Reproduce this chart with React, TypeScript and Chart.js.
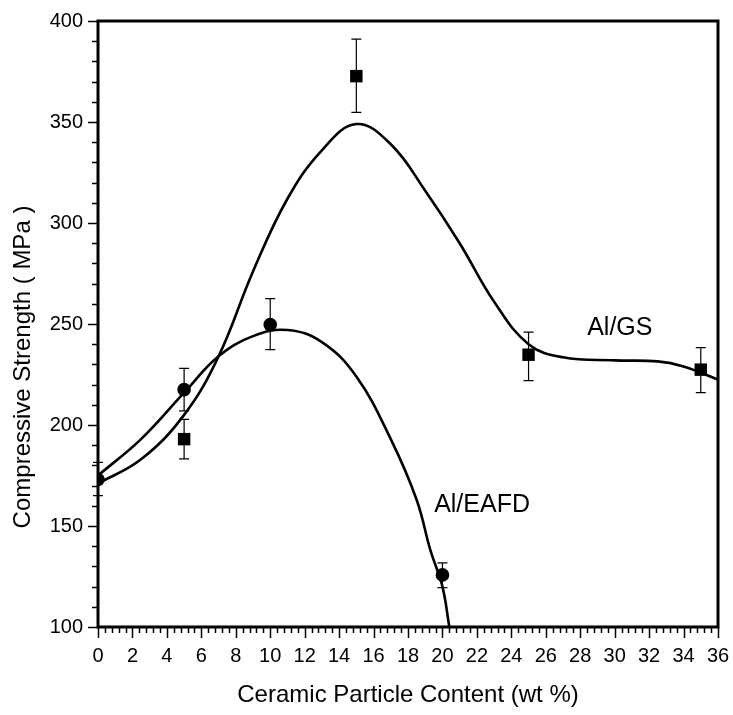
import React, { useEffect, useRef } from "react";
import { Chart, registerables } from "chart.js";

Chart.register(...registerables);

// Fitted curve Al/GS
const gsCurveX = [0, 2.5, 5, 7, 9, 11, 13, 15, 17, 19, 21, 23, 25, 27, 30, 32.5, 34, 36];
const gsCurveY = [171, 183, 205, 234, 276, 312, 336, 349, 339, 316, 290, 261, 240, 233.5, 232, 231.5, 229, 222.5];

// Fitted curve Al/EAFD
const eafdCurveX = [0, 2.5, 5, 7, 9, 11, 13, 15, 17, 18.5, 19.3, 20.0, 20.4];
const eafdCurveY = [175, 193, 216, 234, 244, 247, 241, 224, 193, 163, 138, 120, 100];

// Measured points
const gsX = [5, 15, 25, 35];
const gsY = [193, 372.7, 234.8, 227.4];
const gsLow = [183.2, 354.8, 222, 216];
const gsHigh = [202.8, 391, 246, 238.3];

const eafdX = [0, 5, 10, 20];
const eafdY = [173, 217.5, 249.7, 125.8];
const eafdLow = [165, 207, 237.3, 119.5];
const eafdHigh = [181.5, 228, 262.6, 131.7];

const xMin = 0, xMax = 36, xStep = 2, xMinor = 0.4;
const yMin = 100, yMax = 400, yStep = 50, yMinor = 10;

const xTitle = "Ceramic Particle Content (wt %)";
const yTitle = "Compressive Strength ( MPa )";
const seriesLabels = ["Al/GS", "Al/EAFD"];
const labelPos = [[30.3, 248], [22.3, 160.5]];

const FONT = "'Liberation Sans', Arial, sans-serif";

const decorPlugin = {
  id: "decor",
  beforeDatasetsDraw(chart: any) {
    const { ctx, chartArea: a, scales } = chart;
    const xs = scales.x, ys = scales.y;
    ctx.save();
    ctx.strokeStyle = "#000";
    ctx.lineWidth = 3;
    ctx.strokeRect(a.left, a.top, a.right - a.left, a.bottom - a.top);
    ctx.lineWidth = 1.5;
    ctx.beginPath();
    const nx = Math.round((xMax - xMin) / xMinor);
    for (let i = 0; i <= nx; i++) {
      const v = xMin + i * xMinor;
      const major = Math.abs(v / xStep - Math.round(v / xStep)) < 1e-6;
      const px = Math.round(xs.getPixelForValue(v)) + 0.5;
      ctx.moveTo(px, a.bottom);
      ctx.lineTo(px, a.bottom + (major ? 11 : 6));
    }
    const ny = Math.round((yMax - yMin) / yMinor);
    for (let i = 0; i <= ny; i++) {
      const v = yMin + i * yMinor;
      const major = Math.abs(v / yStep - Math.round(v / yStep)) < 1e-6;
      const py = Math.round(ys.getPixelForValue(v)) + 0.5;
      ctx.moveTo(a.left, py);
      ctx.lineTo(a.left - (major ? 10 : 6), py);
    }
    ctx.stroke();
    ctx.restore();
  },
  afterDatasetsDraw(chart: any) {
    const { ctx, scales } = chart;
    const xs = scales.x, ys = scales.y;
    ctx.save();
    ctx.strokeStyle = "#000";
    ctx.lineWidth = 1.2;
    const bars = (X: number[], L: number[], H: number[]) => {
      X.forEach((x, i) => {
        const px = xs.getPixelForValue(x);
        const pl = ys.getPixelForValue(L[i]);
        const ph = ys.getPixelForValue(H[i]);
        ctx.beginPath();
        ctx.moveTo(px, pl); ctx.lineTo(px, ph);
        ctx.moveTo(px - 5, pl); ctx.lineTo(px + 5, pl);
        ctx.moveTo(px - 5, ph); ctx.lineTo(px + 5, ph);
        ctx.stroke();
      });
    };
    bars(gsX, gsLow, gsHigh);
    bars(eafdX, eafdLow, eafdHigh);
    ctx.restore();
  },
  afterDraw(chart: any) {
    const { ctx, chartArea: a, scales } = chart;
    ctx.save();
    ctx.fillStyle = "#000";
    ctx.textAlign = "center";
    ctx.textBaseline = "middle";
    ctx.font = `24px ${FONT}`;
    ctx.fillText(xTitle, (a.left + a.right) / 2, 695);
    ctx.save();
    ctx.translate(23, 367);
    ctx.rotate(-Math.PI / 2);
    ctx.fillText(yTitle, 0, 0);
    ctx.restore();
    ctx.font = `25px ${FONT}`;
    seriesLabels.forEach((t, i) => {
      ctx.fillText(t, scales.x.getPixelForValue(labelPos[i][0]), scales.y.getPixelForValue(labelPos[i][1]));
    });
    ctx.restore();
  },
};

const noPad = (s: any) => {
  s.paddingLeft = 0;
  s.paddingRight = 0;
  s.paddingTop = 0;
  s.paddingBottom = 0;
};

export default function App() {
  const ref = useRef<HTMLCanvasElement | null>(null);
  useEffect(() => {
    if (!ref.current) return;
    const pts = (X: number[], Y: number[]) => X.map((x, i) => ({ x, y: Y[i] }));
    const chart = new Chart(ref.current, {
      type: "scatter",
      data: {
        datasets: [
          {
            label: "Al/GS fit",
            data: pts(gsCurveX, gsCurveY),
            showLine: true,
            borderColor: "#000",
            borderWidth: 2.6,
            pointRadius: 0,
            tension: 0.4,
          },
          {
            label: "Al/EAFD fit",
            data: pts(eafdCurveX, eafdCurveY),
            showLine: true,
            borderColor: "#000",
            borderWidth: 2.6,
            pointRadius: 0,
            tension: 0.4,
          },
          {
            label: "Al/GS",
            data: pts(gsX, gsY),
            pointStyle: "rect",
            pointRadius: 8.8,
            backgroundColor: "#000",
            borderColor: "#000",
            borderWidth: 0,
          },
          {
            label: "Al/EAFD",
            data: pts(eafdX, eafdY),
            pointStyle: "circle",
            pointRadius: 6.8,
            backgroundColor: "#000",
            borderColor: "#000",
            borderWidth: 0,
          },
        ],
      } as any,
      options: {
        animation: false,
        responsive: true,
        maintainAspectRatio: false,
        layout: { padding: { top: 21, right: 15, left: 0, bottom: 0 } },
        plugins: { legend: { display: false }, tooltip: { enabled: false } },
        scales: {
          x: {
            type: "linear",
            min: xMin,
            max: xMax,
            grid: { display: false, drawTicks: false },
            border: { display: false },
            ticks: { stepSize: xStep, color: "#000", font: { size: 20, family: FONT }, padding: 17, maxRotation: 0, autoSkip: false },
            afterFit: (s: any) => { s.height = 88; noPad(s); },
          },
          y: {
            type: "linear",
            min: yMin,
            max: yMax,
            grid: { display: false, drawTicks: false },
            border: { display: false },
            ticks: { stepSize: yStep, color: "#000", font: { size: 20, family: FONT }, padding: 15 },
            afterFit: (s: any) => { s.width = 98; noPad(s); },
          },
        },
      } as any,
      plugins: [decorPlugin],
    });
    return () => chart.destroy();
  }, []);
  return (
    <div style={{ position: "absolute", left: 0, top: 0, width: 733, height: 715, background: "#fff" }}>
      <canvas ref={ref} />
    </div>
  );
}
